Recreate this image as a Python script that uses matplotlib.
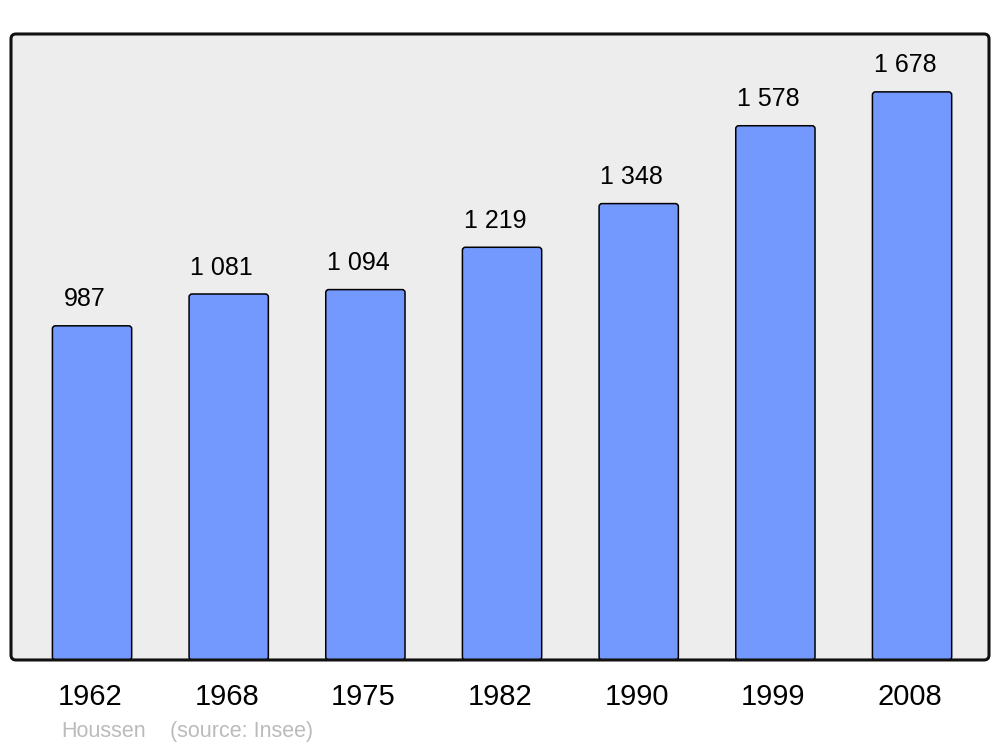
import matplotlib.pyplot as plt
from matplotlib.patches import FancyBboxPatch

plt.rcParams['font.family'] = ['Liberation Sans', 'DejaVu Sans']

years = ['1962', '1968', '1975', '1982', '1990', '1999', '2008']
population = [987, 1081, 1094, 1219, 1348, 1578, 1678]
labels = ['987', '1 081', '1 094', '1 219', '1 348', '1 578', '1 678']

fig = plt.figure(figsize=(10, 7.47), dpi=100)
ax = fig.add_axes([0.011, 0.1165, 0.978, 0.838])
ax.set_facecolor('#ededed')

pos = list(range(len(years)))
bars = ax.bar(pos, population, width=0.58, color='#7399ff', edgecolor='black', linewidth=1.1)

ax.set_xlim(-0.593, 6.563)
ax.set_ylim(0, 1849)

# rounded corners on the bars
xpx = 978 / (6.563 + 0.593)
ypx = 626 / 1849
for b in bars:
    b.set_visible(False)
    r = FancyBboxPatch((b.get_x(), 0), b.get_width(), b.get_height(),
                       boxstyle='round,pad=0,rounding_size=0.022',
                       mutation_aspect=xpx / ypx,
                       facecolor='#7399ff', edgecolor='black', linewidth=1.1)
    ax.add_patch(r)

for p, v, t in zip(pos, population, labels):
    ax.annotate(t, (p, v), xytext=(-5, 14), textcoords='offset points',
                ha='center', va='baseline', fontsize=18)

# year labels under the bars
for p, y in zip(pos, years):
    ax.annotate(y, (p, 0), xytext=(-1.5, -32.4), textcoords='offset points',
                ha='center', va='baseline', fontsize=21, annotation_clip=False)

ax.set_xticks([])
ax.set_yticks([])
for s in ax.spines.values():
    s.set_visible(False)

# rounded frame
frame = FancyBboxPatch((0.011, 0.1165), 0.978, 0.838,
                       boxstyle='round,pad=0,rounding_size=0.005',
                       mutation_aspect=1000 / 747, transform=fig.transFigure,
                       facecolor='none', edgecolor='#111111', linewidth=2.2, zorder=5)
fig.patches.append(frame)

fig.text(0.061, 0.013, 'Houssen', fontsize=15.5, color='#bbbbbb', va='baseline')
fig.text(0.170, 0.013, '(source: Insee)', fontsize=15.5, color='#bbbbbb', va='baseline')

fig.savefig('out.png', dpi=100)
